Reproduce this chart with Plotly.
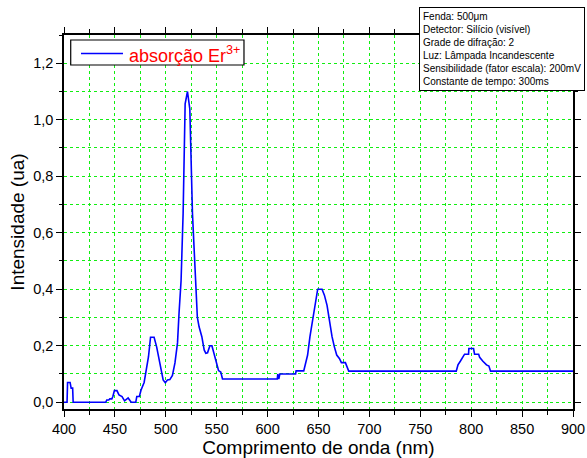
import plotly.graph_objects as go

wavelength = [400, 403, 403.5, 406, 407, 408.5, 409, 441, 442, 444, 445, 447, 448, 449.5,
              452, 454, 457, 459.5, 463, 466, 470.5, 471.5, 474, 475.7, 478.7, 481, 483,
              485, 488.5, 491, 493.4, 495, 497.4, 499.5, 501.6, 504, 506.5, 509, 511.5,
              513, 515, 517, 519, 521.3, 523.6, 526.2, 529.5, 531, 532.7, 535.4, 537.7,
              539.3, 541, 543.3, 545.3, 547.6, 550, 551.8, 554, 555.7, 609.5, 610, 611,
              612, 627.5, 628, 635.5, 637, 639.3, 641.6, 644.9, 647.5, 649.2, 653.5,
              655.8, 658.4, 660.7, 663.3, 665.6, 667.9, 670.5, 672.5, 676.4, 678, 679.7,
              785.3, 787, 789.3, 791.2, 793.5, 797.4, 797.7, 802.3, 803.3, 807.3, 808.3,
              811.5, 815, 817.4, 819, 900]
intensity = [0.0, 0.0, 0.07, 0.07, 0.05, 0.05, 0.0, 0.0, 0.008, 0.008, 0.012, 0.012, 0.02, 0.041,
             0.041, 0.026, 0.02, 0.005, 0.015, 0.0, 0.0, 0.02, 0.02, 0.043, 0.07, 0.114, 0.161,
             0.23, 0.23, 0.196, 0.149, 0.114, 0.079, 0.069, 0.079, 0.08, 0.095, 0.139, 0.21,
             0.315, 0.43, 0.667, 1.056, 1.10, 1.038, 0.667, 0.37, 0.3, 0.267, 0.232, 0.185,
             0.173, 0.175, 0.2, 0.2, 0.167, 0.138, 0.112, 0.107, 0.082, 0.082, 0.1, 0.082,
             0.1, 0.1, 0.111, 0.111, 0.138, 0.167, 0.232, 0.302, 0.361, 0.4, 0.4,
             0.379, 0.343, 0.29, 0.232, 0.196, 0.167, 0.155, 0.14, 0.14, 0.128, 0.11,
             0.11, 0.132, 0.145, 0.159, 0.17, 0.17, 0.19, 0.19, 0.17, 0.17, 0.159,
             0.145, 0.132, 0.128, 0.11, 0.11]

series_name = "absorção Er<sup>3+</sup>"
info_lines = ["Fenda: 500\u03bcm", "Detector: Silício (visível)", "Grade de difração: 2",
              "Luz: Lâmpada Incandescente", "Sensibilidade (fator escala): 200mV",
              "Constante de tempo: 300ms"]

grid_color = "#11ee11"
line_color = "#0000ff"
FONT = "Liberation Sans, Arial"

fig = go.Figure()
fig.add_trace(go.Scatter(x=wavelength, y=intensity, mode="lines", name=series_name,
                         showlegend=False, line=dict(color=line_color, width=1.6)))

axis_common = dict(
    showline=True, linecolor="black", linewidth=1.5, mirror="allticks",
    ticks="outside", ticklen=6, tickwidth=1.2, tickcolor="black",
    showgrid=True, gridcolor=grid_color, griddash="dot", gridwidth=1,
    zeroline=False, automargin=False,
    tickfont=dict(family=FONT, size=14.5, color="black"),
)

fig.update_xaxes(range=[400, 900], tick0=400, dtick=50,
                 minor=dict(dtick=25, ticks="outside", ticklen=4, tickcolor="black",
                            showgrid=True, gridcolor=grid_color, griddash="dot"),
                 title=dict(text="Comprimento de onda (nm)", standoff=2,
                            font=dict(family=FONT, size=19, color="black")),
                 **axis_common)
fig.update_yaxes(range=[-0.024, 1.3], tick0=0, dtick=0.2, tickformat=".1f",
                 minor=dict(dtick=0.1, ticks="outside", ticklen=3, tickcolor="black",
                            showgrid=True, gridcolor=grid_color, griddash="dot"),
                 title=dict(text="Intensidade (ua)", standoff=4,
                            font=dict(family=FONT, size=19, color="black")),
                 **axis_common)

# info box
fig.add_annotation(xref="paper", yref="paper", x=0.698, y=1.074, xanchor="left", yanchor="top",
                   text="<br>".join(info_lines), showarrow=False, align="left",
                   font=dict(family=FONT, size=10, color="black"),
                   bordercolor="black", borderwidth=1, borderpad=3, bgcolor="white")

# legend box
fig.add_shape(type="rect", xref="paper", yref="paper", x0=0.0132, x1=0.3536, y0=0.9198, y1=0.9866,
              line=dict(color="black", width=1.2), fillcolor="white", layer="above")
fig.add_shape(type="line", xref="paper", yref="paper", x0=0.0334, x1=0.1159, y0=0.9505, y1=0.9505,
              line=dict(color=line_color, width=1.6), layer="above")
fig.add_annotation(xref="paper", yref="paper", x=0.1237, y=0.948, xanchor="left", yanchor="middle",
                   text=series_name, showarrow=False,
                   font=dict(family=FONT, size=18, color="red"))

fig.update_layout(
    width=587, height=458,
    margin=dict(l=64, r=14, t=35, b=49, autoexpand=False),
    plot_bgcolor="white", paper_bgcolor="white",
    separators=",.",
    showlegend=False,
)

fig.write_html("out.html")
